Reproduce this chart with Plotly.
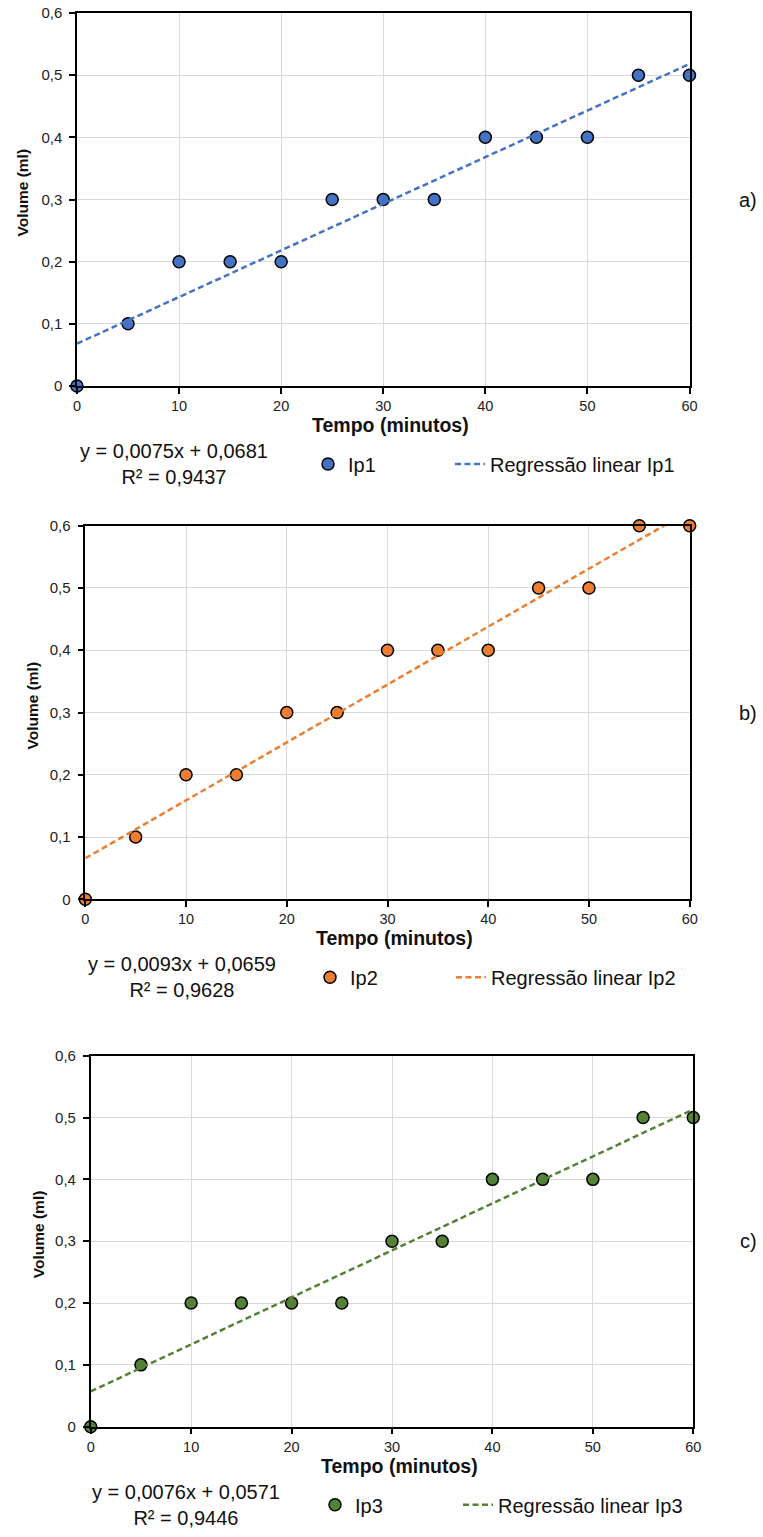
import plotly.graph_objects as go

W, H = 763, 1537
OFF = 0  # page body margin is removed below

# ---- data ----
tempo = [0, 5, 10, 15, 20, 25, 30, 35, 40, 45, 50, 55, 60]
ip1 = [0, 0.1, 0.2, 0.2, 0.2, 0.3, 0.3, 0.3, 0.4, 0.4, 0.4, 0.5, 0.5]
ip2 = [0, 0.1, 0.2, 0.2, 0.3, 0.3, 0.4, 0.4, 0.4, 0.5, 0.5, 0.6, 0.6]
ip3 = [0, 0.1, 0.2, 0.2, 0.2, 0.2, 0.3, 0.3, 0.4, 0.4, 0.4, 0.5, 0.5]
series_names = ["Ip1", "Ip2", "Ip3"]
slopes = [0.0075, 0.0093, 0.0076]
intercepts = [0.0681, 0.0659, 0.0571]
r2_values = ["0,9437", "0,9628", "0,9446"]
equations = ["y = 0,0075x + 0,0681", "y = 0,0093x + 0,0659", "y = 0,0076x + 0,0571"]
panel_labels = ["a)", "b)", "c)"]
x_ticks = [0, 10, 20, 30, 40, 50, 60]
x_tick_labels = ["0", "10", "20", "30", "40", "50", "60"]
y_ticks = [0, 0.1, 0.2, 0.3, 0.4, 0.5, 0.6]
y_tick_labels = ["0", "0,1", "0,2", "0,3", "0,4", "0,5", "0,6"]

colors = ["#4472C4", "#ED7D31", "#548235"]
FONT = "Liberation Sans, Arial, sans-serif"

# pixel layout of each panel on the page: (left, right, top, bottom)
panels_px = [(77, 689.5, 13, 386), (85.3, 689.7, 525.7, 899.3), (90.7, 693.3, 1055.7, 1426.7)]
ytitle_x = [22, 32, 38]
eq_x = [174, 182, 186]
legend_marker_x = [328, 330, 335]
legend_line_x = [450, 451, 458]

def px_x(p):
    return (p - OFF) / W

def px_y(p):
    return 1 - (p - OFF) / H

fig = go.Figure()
all_y = [ip1, ip2, ip3]

layout_axes = {}
annotations = []
for i in range(3):
    l, r, t, b = panels_px[i]
    xa = "xaxis" if i == 0 else f"xaxis{i+1}"
    ya = "yaxis" if i == 0 else f"yaxis{i+1}"
    xref = "x" if i == 0 else f"x{i+1}"
    yref = "y" if i == 0 else f"y{i+1}"
    leg_pt = "legend" if i == 0 else f"legend{2*i+1}"
    leg_ln = f"legend{2*i+2}"
    # regression line
    xs = [tempo[0], tempo[-1]]
    ys = [slopes[i] * x + intercepts[i] for x in xs]
    fig.add_trace(go.Scatter(
        x=tempo, y=all_y[i], mode="markers", name=series_names[i],
        marker=dict(size=12, color=colors[i], line=dict(color="black", width=1.5)),
        cliponaxis=False, xaxis=xref, yaxis=yref, legend=leg_pt))
    fig.add_trace(go.Scatter(
        x=xs, y=ys, mode="lines", name=f"Regressão linear {series_names[i]}",
        line=dict(color=colors[i], width=2.5, dash="6px,3.5px"),
        xaxis=xref, yaxis=yref, legend=leg_ln))
    layout_axes[xa] = dict(
        domain=[px_x(l), px_x(r)], range=[0, 60], anchor=yref,
        tickvals=x_ticks, ticktext=x_tick_labels,
        showgrid=True, gridcolor="#d9d9d9", gridwidth=1,
        showline=True, linecolor="black", linewidth=1.5, mirror=True,
        ticks="outside", ticklen=6, tickwidth=1.5, tickcolor="black",
        ticklabeloverflow="allow",
        tickfont=dict(size=14.5, color="#222"), zeroline=False, fixedrange=True,
        automargin=False)
    layout_axes[ya] = dict(
        domain=[px_y(b), px_y(t)], range=[0, 0.6], anchor=xref,
        tickvals=y_ticks, ticktext=y_tick_labels,
        showgrid=True, gridcolor="#d9d9d9", gridwidth=1,
        showline=True, linecolor="black", linewidth=1.5, mirror=True,
        ticks="outside", ticklen=6, tickwidth=1.5, tickcolor="black",
        ticklabelstandoff=4, ticklabeloverflow="allow",
        tickfont=dict(size=15, color="#222"), zeroline=False, fixedrange=True,
        automargin=False)
    # axis titles
    annotations.append(dict(
        text="<b>Tempo (minutos)</b>", x=px_x((l + r) / 2 + 7), y=px_y(b + 39),
        xref="paper", yref="paper", showarrow=False, xanchor="center", yanchor="middle",
        font=dict(size=19.5, color="#111")))
    annotations.append(dict(
        text="<b>Volume (ml)</b>", x=px_x(ytitle_x[i]), y=px_y((t + b) / 2 - 7),
        xref="paper", yref="paper", showarrow=False, textangle=-90,
        xanchor="center", yanchor="middle", font=dict(size=15.5, color="#111")))
    # equation
    annotations.append(dict(
        text=f"{equations[i]}<br>R² = {r2_values[i]}", x=px_x(eq_x[i]), y=px_y(b + 78),
        xref="paper", yref="paper", showarrow=False, xanchor="center", yanchor="middle",
        align="center", font=dict(size=20, color="#111")))
    # panel label
    annotations.append(dict(
        text=panel_labels[i], x=px_x(748), y=px_y((t + b) / 2),
        xref="paper", yref="paper", showarrow=False, xanchor="center", yanchor="middle",
        font=dict(size=20, color="#111")))
    legend_common = dict(orientation="v", xanchor="left", yanchor="middle",
                         bgcolor="rgba(0,0,0,0)", borderwidth=0,
                         font=dict(size=20, family=FONT, color="#111"),
                         itemclick=False, itemdoubleclick=False)
    layout_axes[leg_pt] = dict(x=px_x(legend_marker_x[i] - 20), y=px_y(b + 78), **legend_common)
    layout_axes[leg_ln] = dict(x=px_x(legend_line_x[i]), y=px_y(b + 78), **legend_common)

fig.update_layout(
    width=W, height=H,
    margin=dict(l=0, r=0, t=0, b=0, pad=0, autoexpand=False),
    paper_bgcolor="white", plot_bgcolor="white",
    font=dict(family=FONT, size=15, color="#111"),
    showlegend=True,
    annotations=annotations,
    **layout_axes)

fig.write_html("out.html", config={"displayModeBar": False},
               post_script="document.body.style.margin='0';")
